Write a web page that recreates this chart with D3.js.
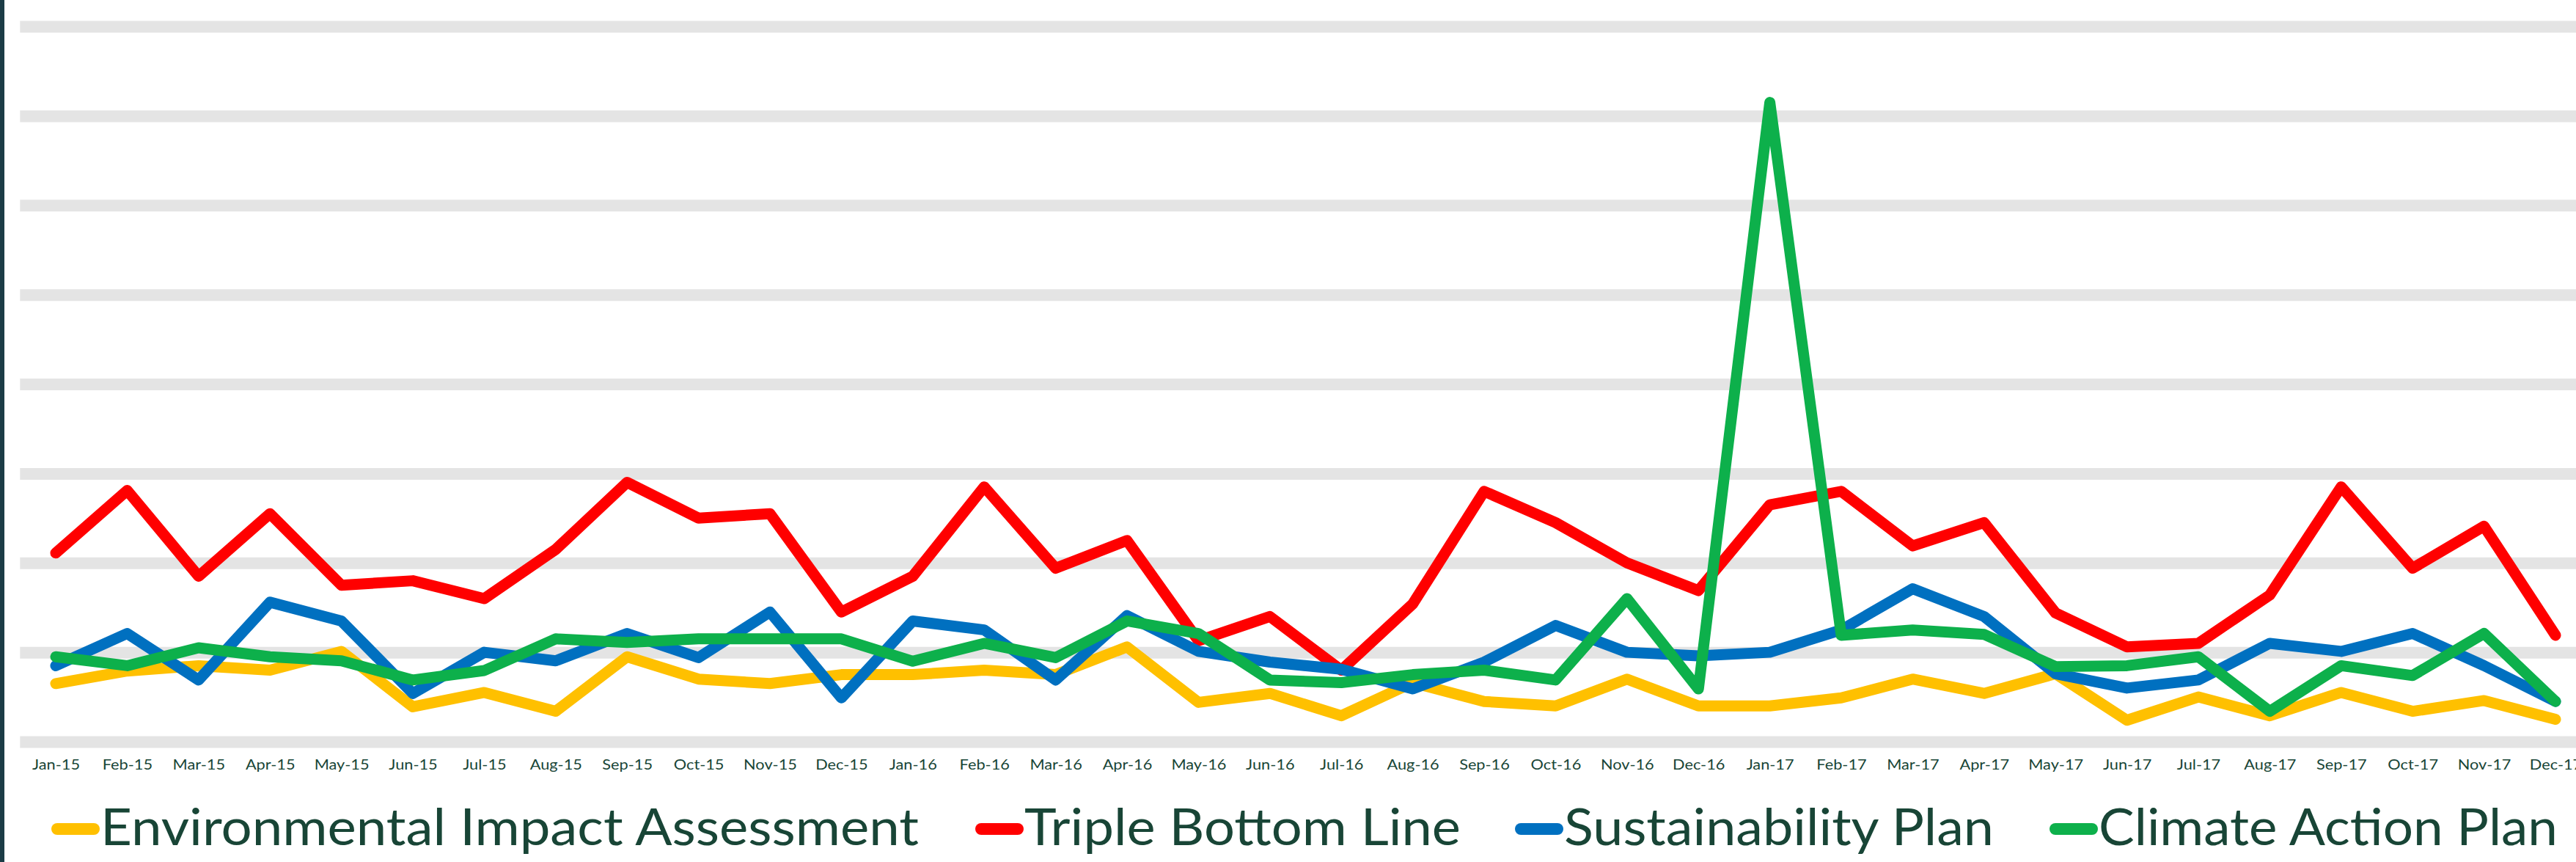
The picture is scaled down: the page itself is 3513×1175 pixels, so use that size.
<!DOCTYPE html>
<html><head><meta charset="utf-8">
<script src="https://cdn.jsdelivr.net/npm/d3@7"></script>
<style>html,body{margin:0;padding:0;background:#fff;overflow:hidden}</style>
</head><body>
<svg id="chart" width="3513" height="1175"></svg>
<script>
// ---------------- data ----------------
const months = ["Jan-15","Feb-15","Mar-15","Apr-15","May-15","Jun-15","Jul-15","Aug-15","Sep-15","Oct-15","Nov-15","Dec-15",
                "Jan-16","Feb-16","Mar-16","Apr-16","May-16","Jun-16","Jul-16","Aug-16","Sep-16","Oct-16","Nov-16","Dec-16",
                "Jan-17","Feb-17","Mar-17","Apr-17","May-17","Jun-17","Jul-17","Aug-17","Sep-17","Oct-17","Nov-17","Dec-17"];
const seriesNames = ["Environmental Impact Assessment","Triple Bottom Line","Sustainability Plan","Climate Action Plan"];
const environmentalImpactAssessment = [6.5,7.9,8.5,8.0,10.1,3.9,5.5,3.4,9.5,7.0,6.5,7.5,
                                       7.5,8.0,7.5,10.6,4.4,5.4,2.9,6.6,4.5,4.0,7.0,4.0,
                                       4.0,4.9,7.0,5.4,7.6,2.4,5.0,2.9,5.5,3.4,4.6,2.5];
const tripleBottomLine = [21.1,28.1,18.5,25.5,17.5,18.0,16.0,21.5,29.0,25.0,25.5,14.5,
                          18.5,28.5,19.4,22.5,11.3,14.0,8.0,15.4,28.0,24.5,20.0,16.9,
                          26.5,28.0,21.9,24.5,14.4,10.6,11.0,16.4,28.5,19.4,24.1,11.9];
const sustainabilityPlan = [8.5,12.1,6.9,15.6,13.5,5.4,10.0,9.05,12.1,9.4,14.5,4.9,
                            13.5,12.5,6.9,14.1,10.1,8.9,8.1,5.9,8.9,13.0,10.0,9.6,
                            10.0,12.5,17.1,14.0,7.6,6.0,6.9,11.0,10.1,12.1,8.5,4.5];
const climateActionPlan = [9.5,8.5,10.5,9.5,9.05,6.9,7.96,11.5,11.1,11.5,11.5,11.5,
                           9.0,11.0,9.4,13.5,12.1,6.9,6.6,7.5,8.0,6.9,16.0,5.9,
                           71.5,11.9,12.5,12.0,8.4,8.5,9.5,3.4,8.5,7.4,12.1,4.5];
const yTicks = [0,10,20,30,40,50,60,70,80];
const seriesColors = ["#FFC000","#FF0000","#0070C0","#0DB04B"];

// ---------------- layout ----------------
const svg = d3.select("#chart");
const textColor = "#184536";
const fontFam = "Lato, 'Open Sans', sans-serif";
const step = 97.4, firstX = 76;
const plotLeft = firstX - step/2, plotRight = firstX + (months.length - 0.5) * step;

svg.append("rect").attr("x",0).attr("y",0).attr("width",6).attr("height",1175).attr("fill","#1B3C46");

const x = d3.scalePoint().domain(months).range([firstX, firstX + (months.length-1)*step]);
const y = d3.scaleLinear().domain([0,80]).range([1011,36]);

// gridlines
const grid = svg.append("g").attr("transform",`translate(${plotLeft},0)`)
  .call(d3.axisRight(y).tickValues(yTicks).tickSize(plotRight-plotLeft).tickFormat(""));
grid.select(".domain").remove();
grid.selectAll("line").attr("stroke","#E4E4E4").attr("stroke-width",16);

// x axis labels
const xAxis = svg.append("g").attr("transform","translate(0,1011)")
  .call(d3.axisBottom(x).tickSize(0));
xAxis.select(".domain").remove();
xAxis.selectAll("text").attr("dy",null).attr("y",38)
  .attr("font-family",fontFam).attr("font-size",19.5).attr("fill",textColor);
const probe = xAxis.select("text").node();
const sxTick = 65 / probe.getComputedTextLength();
xAxis.selectAll("text").attr("transform",`scale(${sxTick},1)`);

// lines
const allSeries = [environmentalImpactAssessment, tripleBottomLine, sustainabilityPlan, climateActionPlan];
const line = d3.line().x((d,i)=>x(months[i])).y(d=>y(d));
svg.append("g").selectAll("path").data(allSeries).join("path")
  .attr("d", d=>line(d))
  .attr("fill","none")
  .attr("stroke",(d,i)=>seriesColors[i])
  .attr("stroke-width",15)
  .attr("stroke-linejoin","round")
  .attr("stroke-linecap","round");

// legend (item start positions and text widths as in the original layout)
const legendStart = [70, 1330, 2066, 2795];
const legendTextWidth = [1116, 595, 586, 626];
const leg = svg.append("g");
seriesNames.forEach((name,i)=>{
  const cx = legendStart[i];
  leg.append("line").attr("x1",cx+8).attr("x2",cx+58).attr("y1",1130).attr("y2",1130)
    .attr("stroke",seriesColors[i]).attr("stroke-width",16).attr("stroke-linecap","round");
  leg.append("text").attr("x",cx+67).attr("y",1152)
    .attr("font-family",fontFam).attr("font-size",70).attr("fill",textColor)
    .attr("textLength",legendTextWidth[i]).attr("lengthAdjust","spacingAndGlyphs")
    .text(name);
});
</script>
</body></html>
